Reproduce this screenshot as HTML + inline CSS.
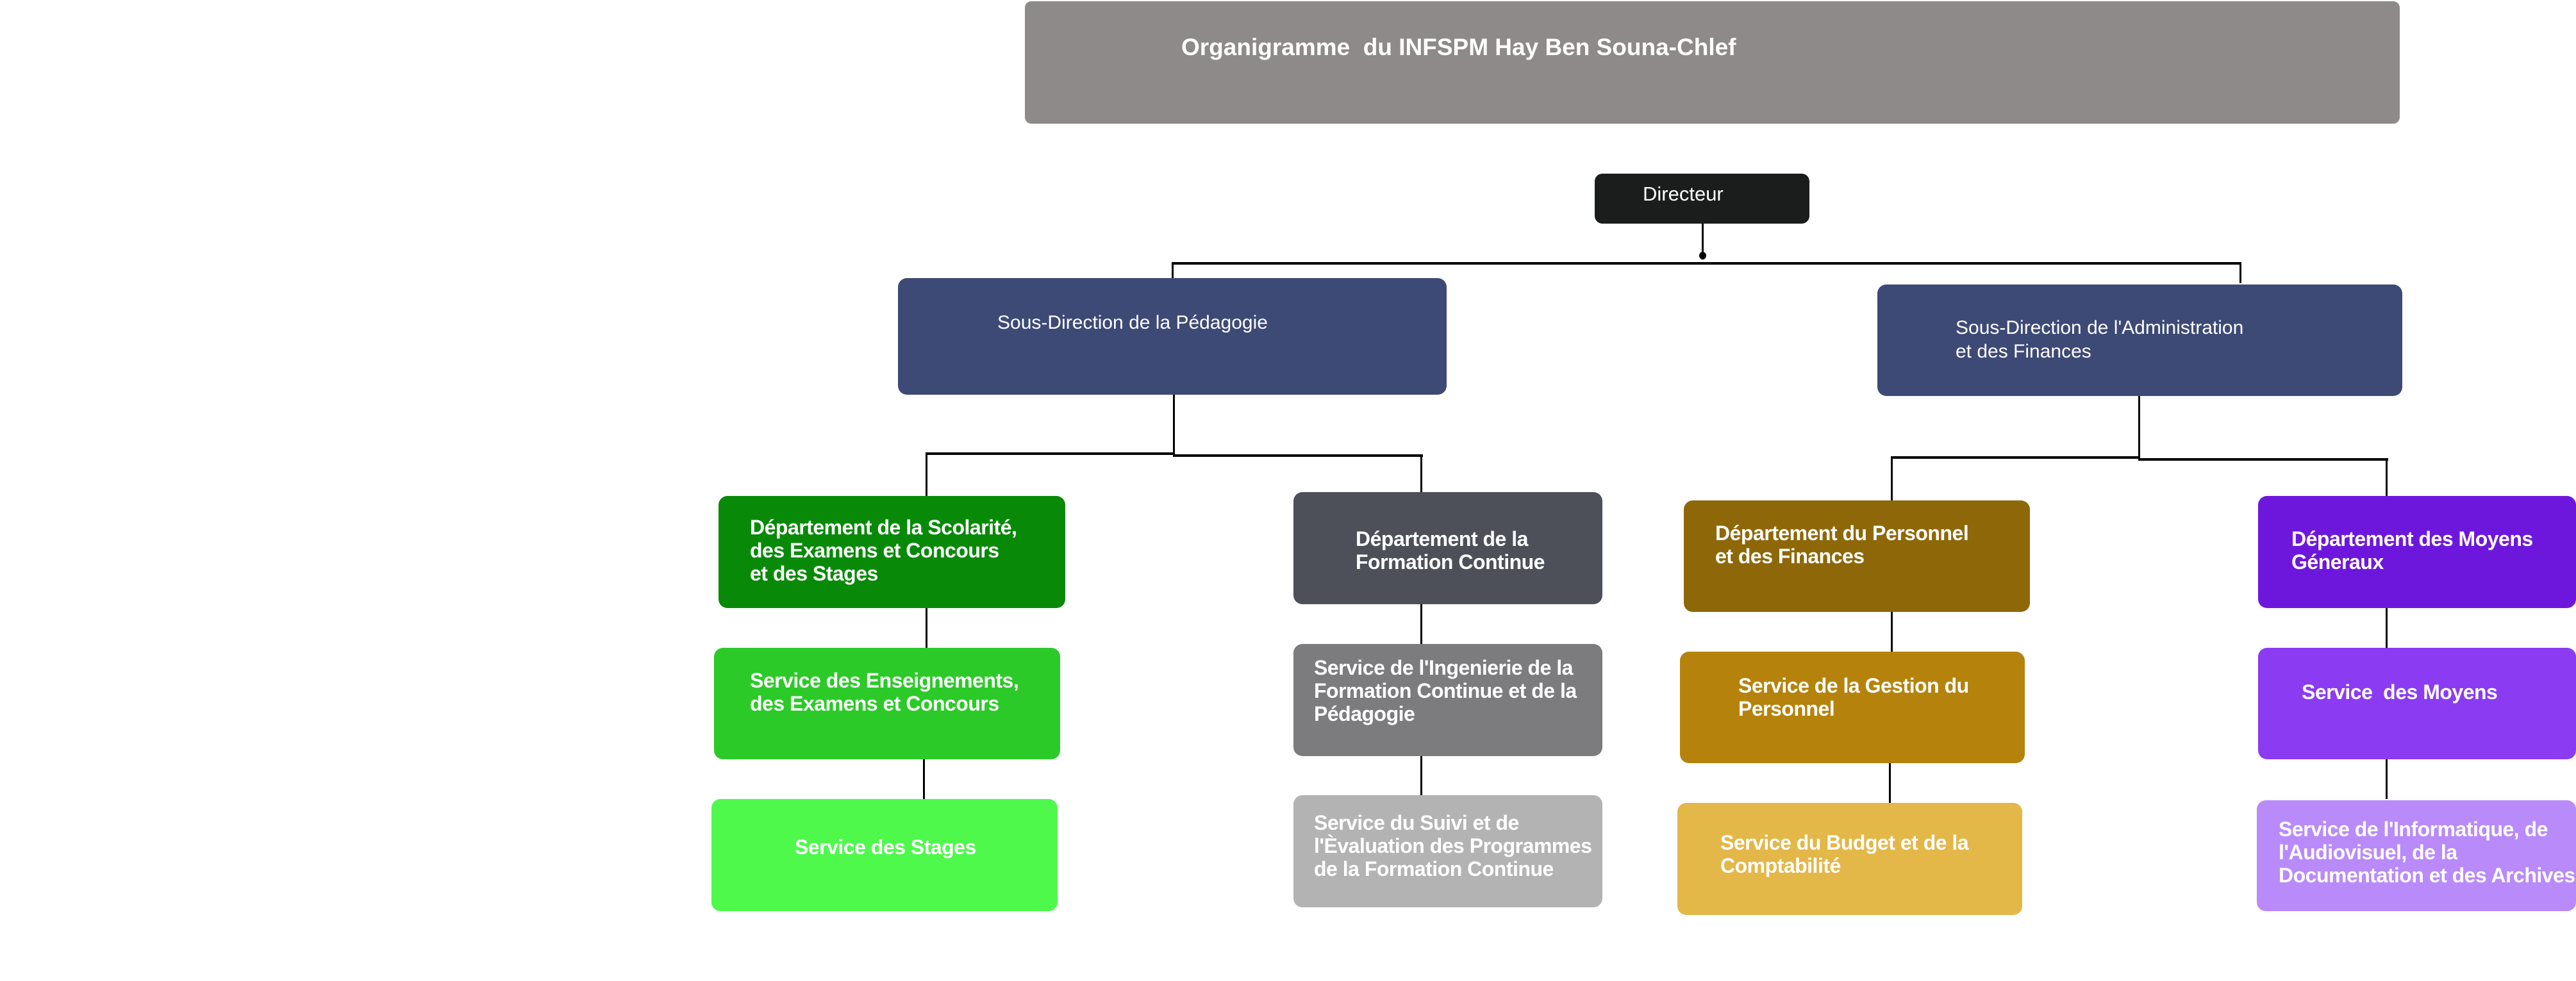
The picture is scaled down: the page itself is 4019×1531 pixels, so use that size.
<!DOCTYPE html>
<html><head><meta charset="utf-8">
<style>
html,body{margin:0;padding:0;background:#fff;}
body{width:4019px;height:1531px;position:relative;overflow:hidden;font-family:"Liberation Sans",sans-serif;}
.b{position:absolute;border-radius:14px;}
.t{position:absolute;color:#fff;font-weight:bold;font-size:32px;line-height:36px;letter-spacing:-0.5px;white-space:nowrap;}
.r{position:absolute;color:#fff;font-size:30px;line-height:37px;white-space:nowrap;}
.l{position:absolute;background:#000;}
</style></head><body>
<!-- title -->
<div class="b" style="left:1599px;top:2px;width:2145px;height:191px;background:#8f8a8a;border-radius:10px;"></div>
<div class="t" style="left:1843px;top:54px;font-size:37px;line-height:40px;letter-spacing:0px;">Organigramme&nbsp; du INFSPM Hay Ben Souna-Chlef</div>

<!-- directeur -->
<div class="b" style="left:2488px;top:271px;width:335px;height:78px;background:#1b1c1c;border-radius:12px;"></div>
<div class="r" style="left:2563px;top:284px;font-size:31px;">Directeur</div>
<div class="l" style="left:2655px;top:349px;width:3px;height:50px;"></div>
<div style="position:absolute;left:2651px;top:393px;width:11px;height:12px;border-radius:50%;background:#000;"></div>
<div class="l" style="left:1828px;top:409px;width:1669px;height:4px;"></div>
<div class="l" style="left:1828px;top:409px;width:3px;height:27px;"></div>
<div class="l" style="left:3494px;top:409px;width:3px;height:33px;"></div>

<!-- sous-directions -->
<div class="b" style="left:1401px;top:434px;width:856px;height:182px;background:#3d4a76;"></div>
<div class="r" style="left:1556px;top:485px;">Sous-Direction de la Pédagogie</div>
<div class="b" style="left:2929px;top:444px;width:819px;height:174px;background:#3d4a76;"></div>
<div class="r" style="left:3051px;top:493px;">Sous-Direction de l'Administration<br>et des Finances</div>

<!-- connectors left -->
<div class="l" style="left:1830px;top:616px;width:3px;height:94px;"></div>
<div class="l" style="left:1444px;top:706px;width:389px;height:4px;"></div>
<div class="l" style="left:1830px;top:709px;width:390px;height:4px;"></div>
<div class="l" style="left:1444px;top:708px;width:3px;height:66px;"></div>
<div class="l" style="left:2216px;top:711px;width:3px;height:58px;"></div>
<!-- connectors right -->
<div class="l" style="left:3336px;top:618px;width:3px;height:97px;"></div>
<div class="l" style="left:2950px;top:712px;width:389px;height:4px;"></div>
<div class="l" style="left:3336px;top:715px;width:390px;height:4px;"></div>
<div class="l" style="left:2950px;top:714px;width:3px;height:67px;"></div>
<div class="l" style="left:3722px;top:717px;width:3px;height:57px;"></div>

<!-- vertical between rows -->
<div class="l" style="left:1444px;top:949px;width:3px;height:62px;"></div>
<div class="l" style="left:1440px;top:1185px;width:3px;height:62px;"></div>
<div class="l" style="left:2216px;top:943px;width:3px;height:62px;"></div>
<div class="l" style="left:2216px;top:1180px;width:3px;height:61px;"></div>
<div class="l" style="left:2950px;top:955px;width:3px;height:62px;"></div>
<div class="l" style="left:2947px;top:1191px;width:3px;height:62px;"></div>
<div class="l" style="left:3722px;top:949px;width:3px;height:62px;"></div>
<div class="l" style="left:3722px;top:1185px;width:3px;height:62px;"></div>

<!-- column 1 -->
<div class="b" style="left:1121px;top:774px;width:541px;height:175px;background:#088a08;"></div>
<div class="t" style="left:1170px;top:805px;">Département de la Scolarité,<br>des Examens et Concours<br>et des Stages</div>
<div class="b" style="left:1114px;top:1011px;width:540px;height:174px;background:#2bca28;"></div>
<div class="t" style="left:1170px;top:1044px;">Service des Enseignements,<br>des Examens et Concours</div>
<div class="b" style="left:1110px;top:1247px;width:540px;height:175px;background:#4ef94c;"></div>
<div class="t" style="left:1240px;top:1304px;">Service des Stages</div>

<!-- column 2 -->
<div class="b" style="left:2018px;top:768px;width:482px;height:175px;background:#4d5059;"></div>
<div class="t" style="left:2115px;top:823px;">Département de la<br>Formation Continue</div>
<div class="b" style="left:2018px;top:1005px;width:482px;height:175px;background:#7c7c7e;"></div>
<div class="t" style="left:2050px;top:1024px;">Service de l'Ingenierie de la<br>Formation Continue et de la<br>Pédagogie</div>
<div class="b" style="left:2018px;top:1241px;width:482px;height:175px;background:#b3b3b3;"></div>
<div class="t" style="left:2050px;top:1266px;">Service du Suivi et de<br>l'Èvaluation des Programmes<br>de la Formation Continue</div>

<!-- column 3 -->
<div class="b" style="left:2627px;top:781px;width:540px;height:174px;background:#8e6808;"></div>
<div class="t" style="left:2676px;top:814px;">Département du Personnel<br>et des Finances</div>
<div class="b" style="left:2621px;top:1017px;width:538px;height:174px;background:#b5830b;"></div>
<div class="t" style="left:2712px;top:1052px;">Service de la Gestion du<br>Personnel</div>
<div class="b" style="left:2617px;top:1253px;width:538px;height:175px;background:#e3b748;"></div>
<div class="t" style="left:2684px;top:1297px;">Service du Budget et de la<br>Comptabilité</div>

<!-- column 4 -->
<div class="b" style="left:3523px;top:774px;width:496px;height:175px;background:#6e17dc;"></div>
<div class="t" style="left:3575px;top:823px;">Département des Moyens<br>Géneraux</div>
<div class="b" style="left:3523px;top:1011px;width:496px;height:174px;background:#8b3bf2;"></div>
<div class="t" style="left:3591px;top:1062px;">Service&nbsp; des Moyens</div>
<div class="b" style="left:3521px;top:1249px;width:498px;height:173px;background:#b98afa;"></div>
<div class="t" style="left:3555px;top:1276px;">Service de l'Informatique, de<br>l'Audiovisuel, de la<br>Documentation et des Archives</div>
</body></html>
